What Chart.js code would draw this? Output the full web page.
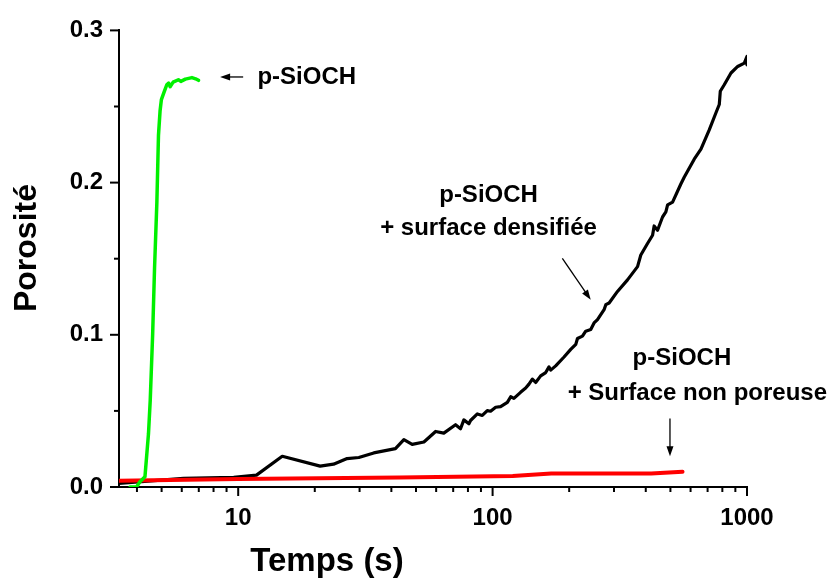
<!DOCTYPE html>
<html>
<head>
<meta charset="utf-8">
<script src="https://cdn.jsdelivr.net/npm/chart.js@4.4.1/dist/chart.umd.min.js"></script>
<style>
  body { margin: 0; background: #fff; }
  canvas { display: block; }
</style>
</head>
<body>
<canvas id="chart" width="839" height="579"></canvas>
<script>
// ---- data ----
const greenTime = [3.76, 3.99, 4.11, 4.30, 4.44, 4.51, 4.61, 4.69, 4.79, 4.86, 4.93, 4.99, 5.10, 5.24, 5.33, 5.40, 5.55, 5.82, 5.95, 6.20, 6.58, 6.80, 6.98];
const greenPoro = [0.0, 0.0002, 0.0035, 0.0067, 0.035, 0.0567, 0.100, 0.1437, 0.187, 0.231, 0.2470, 0.2545, 0.2590, 0.2643, 0.2654, 0.2630, 0.2660, 0.2676, 0.2665, 0.2680, 0.2690, 0.2682, 0.2672];

const blackTime = [3.4, 6.1, 9.6, 11.8, 14.9, 21.0, 23.7, 26.8, 29.8, 34.1, 41.5, 44.8, 48.3, 53.7, 59.7, 64.3, 71.5, 74.8, 77.1, 80.7,
    81.9, 87.1, 91.1, 95.3, 98.2, 102.8, 107.5, 114.3, 117.8, 121.3, 128.8, 134.9, 139, 143.3, 147.7, 154.5, 161.7, 166.6, 169.2, 177,
    190.9, 202.8, 212.3, 215.6, 225.5, 232.3, 243.1, 250.5, 258.4, 274.3, 278.6, 287.1, 309.7, 339.1, 371.3, 382.5, 406.4, 425.4, 431.5, 445.0,
    465.6, 479.8, 487.4, 509.9, 549.5, 566.4, 620.2, 659.1, 710.6, 755.1, 778, 785.2, 813.9, 865, 919.2, 975.9, 1000, 1000];
const blackPoro = [0.0024, 0.0057, 0.0063, 0.0078, 0.0202, 0.0137, 0.0150, 0.0187, 0.0194, 0.0224, 0.0252, 0.0311, 0.0280, 0.0296, 0.0365, 0.0354, 0.0409, 0.0383, 0.0441, 0.0415,
    0.0437, 0.0480, 0.0470, 0.0502, 0.0498, 0.0524, 0.0528, 0.0556, 0.0593, 0.0582, 0.0622, 0.0650, 0.0676, 0.0709, 0.0687, 0.0730, 0.0752, 0.0789, 0.0768, 0.0796,
    0.0854, 0.0904, 0.0937, 0.0976, 0.0991, 0.1024, 0.1035, 0.1078, 0.1100, 0.1165, 0.1198, 0.1209, 0.1285, 0.1361, 0.1448, 0.1524, 0.1600, 0.1654, 0.1715, 0.1687,
    0.1774, 0.1807, 0.1854, 0.1872, 0.1991, 0.2035, 0.2154, 0.2220, 0.2346, 0.2459, 0.2513, 0.2600, 0.2643, 0.2720, 0.2763, 0.2785, 0.2829, 0.2774];

const redTime = [3.4, 10, 43, 120, 170, 420, 558];
const redPoro = [0.0041, 0.0052, 0.0063, 0.0072, 0.0089, 0.0089, 0.0100];

const xTickValues = [4, 5, 6, 7, 8, 9, 10, 20, 30, 40, 50, 60, 70, 80, 90, 100, 200, 300, 400, 500, 600, 700, 800, 900, 1000];
const xTickLabels = [10, 100, 1000];
const yTickValues = [0, 0.05, 0.1, 0.15, 0.2, 0.25, 0.3];

const toPoints = (xs, ys) => xs.map((x, i) => ({ x: x, y: ys[i] }));
const isMajorY = v => Math.abs(v * 10 - Math.round(v * 10)) < 1e-6;
const isMajorX = v => xTickLabels.includes(Math.round(v));

const FONT = '"Liberation Sans", Arial, Helvetica, sans-serif';

// annotations in data coordinates
const notes = [
    { lines: ['p-SiOCH'], x: 11.9, y: [0.2694], align: 'left' },
    { lines: ['p-SiOCH', '+ surface densifiée'], x: 96.4, y: [0.1917, 0.1696], align: 'center' },
    { lines: ['p-SiOCH'], x: 555, y: [0.0848], align: 'center' },
    { lines: ['+ Surface non poreuse'], x: 638, y: [0.0613], align: 'center' }
];
const arrows = [
    { from: [10.46, 0.2694], to: [8.49, 0.2694] },
    { from: [188, 0.1502], to: [243, 0.1231] },
    { from: [498, 0.0450], to: [498, 0.0202] }
];

const decorations = {
    id: 'decorations',
    afterDraw(chart) {
        const { ctx, chartArea, scales } = chart;
        const xs = scales.x, ys = scales.y;
        ctx.save();
        ctx.strokeStyle = '#000';
        ctx.fillStyle = '#000';
        ctx.lineWidth = 2;

        // tick marks (outside)
        xs.ticks.forEach(t => {
            const px = xs.getPixelForValue(t.value);
            const len = isMajorX(t.value) ? 9 : 5;
            ctx.beginPath();
            ctx.moveTo(px, chartArea.bottom);
            ctx.lineTo(px, chartArea.bottom + len);
            ctx.stroke();
        });
        ys.ticks.forEach(t => {
            const py = ys.getPixelForValue(t.value);
            const len = isMajorY(t.value) ? 9 : 5;
            ctx.beginPath();
            ctx.moveTo(chartArea.left, py);
            ctx.lineTo(chartArea.left - len, py);
            ctx.stroke();
        });

        // axis titles
        ctx.font = 'bold 32px ' + FONT;
        ctx.textAlign = 'center';
        ctx.textBaseline = 'middle';
        ctx.save();
        ctx.translate(27, 248);
        ctx.rotate(-Math.PI / 2);
        ctx.fillText('Porosité', 0, 0);
        ctx.restore();
        ctx.font = 'bold 33px ' + FONT;
        ctx.textBaseline = 'alphabetic';
        ctx.fillText('Temps (s)', 327, 571);

        // annotation texts
        ctx.font = 'bold 24px ' + FONT;
        ctx.textBaseline = 'middle';
        notes.forEach(n => {
            ctx.textAlign = n.align;
            n.lines.forEach((line, i) => {
                ctx.fillText(line, xs.getPixelForValue(n.x), ys.getPixelForValue(n.y[i]));
            });
        });

        // arrows
        ctx.lineWidth = 1.3;
        arrows.forEach(a => {
            const x0 = xs.getPixelForValue(a.from[0]), y0 = ys.getPixelForValue(a.from[1]);
            const x1 = xs.getPixelForValue(a.to[0]), y1 = ys.getPixelForValue(a.to[1]);
            const ang = Math.atan2(y1 - y0, x1 - x0);
            const hl = 10, hw = 3.5;
            ctx.beginPath();
            ctx.moveTo(x0, y0);
            ctx.lineTo(x1 - Math.cos(ang) * hl * 0.8, y1 - Math.sin(ang) * hl * 0.8);
            ctx.stroke();
            ctx.beginPath();
            ctx.moveTo(x1, y1);
            ctx.lineTo(x1 - Math.cos(ang) * hl - Math.sin(ang) * hw, y1 - Math.sin(ang) * hl + Math.cos(ang) * hw);
            ctx.lineTo(x1 - Math.cos(ang) * hl + Math.sin(ang) * hw, y1 - Math.sin(ang) * hl - Math.cos(ang) * hw);
            ctx.closePath();
            ctx.fill();
        });
        ctx.restore();
    }
};

new Chart(document.getElementById('chart'), {
    type: 'line',
    data: {
        datasets: [
            {
                label: 'p-SiOCH',
                data: toPoints(greenTime, greenPoro),
                borderColor: '#00f000',
                borderWidth: 3.5
            },
            {
                label: 'p-SiOCH + Surface non poreuse',
                data: toPoints(redTime, redPoro),
                borderColor: '#ff0000',
                borderWidth: 4
            },
            {
                label: 'p-SiOCH + surface densifiée',
                data: toPoints(blackTime, blackPoro),
                borderColor: '#000000',
                borderWidth: 3.2
            }
        ]
    },
    options: {
        responsive: false,
        animation: false,
        elements: {
            point: { radius: 0 },
            line: { tension: 0, borderJoinStyle: 'round', borderCapStyle: 'round' }
        },
        layout: { padding: { top: 27, right: 92, left: 0, bottom: 0 } },
        plugins: {
            legend: { display: false },
            tooltip: { enabled: false }
        },
        scales: {
            x: {
                type: 'logarithmic',
                min: 3.4,
                max: 1000,
                afterBuildTicks: s => { s.ticks = xTickValues.map(v => ({ value: v })); },
                afterFit: s => { s.height = 92; },
                grid: { display: false, drawTicks: false },
                border: { display: true, color: '#000', width: 2 },
                ticks: {
                    autoSkip: false,
                    maxRotation: 0,
                    padding: 17,
                    color: '#000',
                    font: { family: FONT, size: 24, weight: 'bold' },
                    callback: v => isMajorX(v) ? String(Math.round(v)) : ''
                }
            },
            y: {
                type: 'linear',
                min: 0,
                max: 0.3,
                afterBuildTicks: s => { s.ticks = yTickValues.map(v => ({ value: v })); },
                afterFit: s => { s.width = 119; },
                grid: { display: false, drawTicks: false },
                border: { display: true, color: '#000', width: 2 },
                ticks: {
                    autoSkip: false,
                    padding: 16,
                    color: '#000',
                    font: { family: FONT, size: 24, weight: 'bold' },
                    callback: v => isMajorY(v) ? v.toFixed(1) : ''
                }
            }
        }
    },
    plugins: [decorations]
});
</script>
</body>
</html>
